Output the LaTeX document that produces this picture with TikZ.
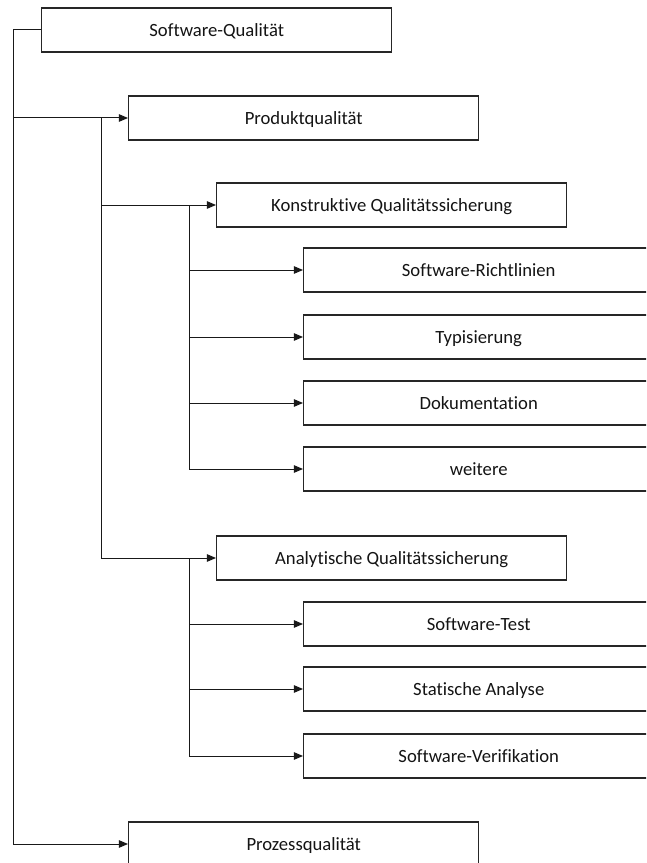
\documentclass[tikz,border=0pt]{standalone}
\usepackage{fontspec}
\setmainfont{Carlito}[Ligatures=NoCommon]
\usetikzlibrary{arrows.meta,positioning}
\definecolor{sqedge}{RGB}{38,38,38}
\definecolor{sqline}{RGB}{25,25,25}
\definecolor{sqtext}{RGB}{20,20,20}
\tikzset{
  sqbox/.style={
    draw=sqedge, line width=1.1pt, fill=white, anchor=west,
    minimum width=262.5pt, minimum height=33pt, inner sep=0pt,
    text height=10.5pt, text depth=0.5pt,
    text=sqtext, font=\fontsize{14}{16}\selectfont
  },
  arr/.style={-{Triangle[length=6.8pt,width=5.6pt]}, draw=sqline, line width=0.75pt},
  link/.style={draw=sqline, line width=0.75pt}
}

\begin{document}
\begin{tikzpicture}[x=0.75pt, y=-0.75pt]
  \useasboundingbox (0,0) rectangle (646,863);
  \clip (0,0) rectangle (646,863);
  % top level
  \node[sqbox] (quality) at (41,30) {Software-Qualität};
  \node[sqbox] (product) at (128,118) {Produktqualität};
  \node[sqbox] (process) at (128,844) {Prozessqualität};
  % product quality
  \node[sqbox] (constructive) at (216,205) {Konstruktive Qualitätssicherung};
  \node[sqbox] (analytic) at (216,558) {Analytische Qualitätssicherung};
  % constructive measures
  \node[sqbox] (guidelines) at (303,270) {Software-Richtlinien};
  \node[sqbox] (typing) at (303,337) {Typisierung};
  \node[sqbox] (documentation) at (303,403) {Dokumentation};
  \node[sqbox] (further) at (303,469) {weitere};
  % analytic measures
  \node[sqbox] (test) at (303,624) {Software-Test};
  \node[sqbox] (static) at (303,689) {Statische Analyse};
  \node[sqbox] (verif) at (303,756) {Software-Verifikation};

  \coordinate (trunk) at (13,30);
  \coordinate (pbus) at (101,118);
  \coordinate (kbus) at (189,205);
  \coordinate (abus) at (189,558);

  \draw[arr] (quality.west) -- (trunk) |- (process.west);
  \draw[arr] (trunk |- product.west) -- (product.west);

  \draw[arr] (pbus) |- (analytic.west);
  \draw[arr] (pbus |- constructive.west) -- (constructive.west);

  \draw[arr] (kbus) |- (further.west);
  \foreach \n in {guidelines,typing,documentation}
    \draw[arr] (kbus |- \n.west) -- (\n.west);

  \draw[arr] (abus) |- (verif.west);
  \foreach \n in {test,static}
    \draw[arr] (abus |- \n.west) -- (\n.west);
\end{tikzpicture}
\end{document}
